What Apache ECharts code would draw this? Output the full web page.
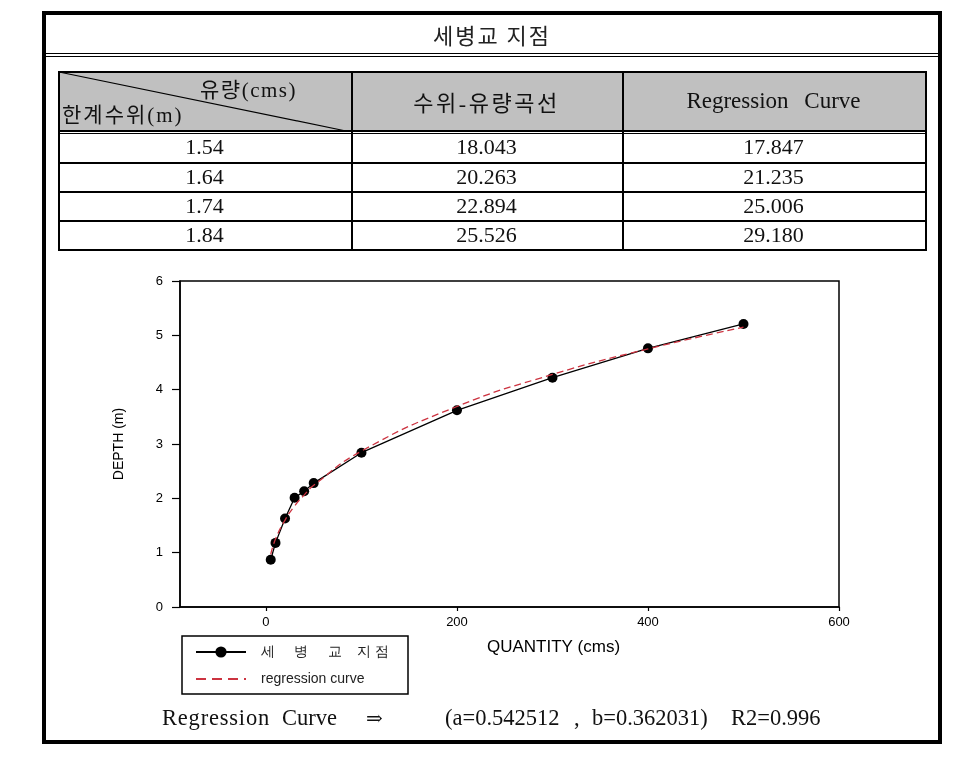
<!DOCTYPE html>
<html><head><meta charset="utf-8">
<script src="https://cdn.jsdelivr.net/npm/echarts@6/dist/echarts.min.js"></script>
<style>
html,body{margin:0;padding:0;background:#fff;}
#wrap{position:relative;width:959px;height:768px;overflow:hidden;background:#fff;}
#chart{position:absolute;left:0;top:0;width:959px;height:768px;}
.abs{position:absolute;box-sizing:border-box;}
.serif{font-family:"Liberation Serif","DejaVu Serif","Noto Sans CJK KR",serif;color:#111;white-space:nowrap;}
.cell{display:flex;align-items:center;justify-content:center;}
</style></head><body>
<div id="wrap"><div id="chart"></div><div id="tbl"></div></div>
<script>
// ---- data ----
const title = '세병교 지점';
const cornerTop = '유량(cms)';
const cornerBottom = '한계수위(m)';
const columnHeads = ['수위-유량곡선', 'Regression Curve'];
const limitLevels = ['1.54', '1.64', '1.74', '1.84'];
const ratingFlows = ['18.043', '20.263', '22.894', '25.526'];
const regressionFlows = ['17.847', '21.235', '25.006', '29.180'];
const quantity = [5, 10, 20, 30, 40, 50, 100, 200, 300, 400, 500];
const depthObserved = [0.87, 1.18, 1.63, 2.01, 2.13, 2.28, 2.84, 3.62, 4.22, 4.76, 5.21];
const depthRegression = [0.97, 1.25, 1.60, 1.86, 2.06, 2.24, 2.87, 3.69, 4.28, 4.75, 5.15];
const xTicks = [0, 200, 400, 600];
const seriesNames = ['세병교 지점', 'regression curve'];
const noteTokens = ['Regression', 'Curve', '⇒', '(a=0.542512', ',', 'b=0.362031)', 'R2=0.996'];

// ---- table (HTML) ----
const tbl = document.getElementById('tbl');
function box(l, t, w, h, css, html) {
  const d = document.createElement('div');
  d.className = 'abs ' + (css || '');
  d.style.left = l + 'px'; d.style.top = t + 'px';
  d.style.width = w + 'px'; d.style.height = h + 'px';
  if (html !== undefined) d.textContent = html;
  tbl.appendChild(d);
  return d;
}
function hline(x1, x2, y, w) { const d = box(x1, y, x2 - x1, w || 1.5); d.style.background = '#000'; }
function vline(x, y1, y2, w) { const d = box(x, y1, w || 1.5, y2 - y1); d.style.background = '#000'; }

// outer frame
const outer = box(42, 11, 900, 733); outer.style.border = '4px solid #000';
// title
const tt = box(46, 15, 892, 38, 'serif cell', title);
tt.style.fontSize = '22px'; tt.style.letterSpacing = '2px'; tt.style.fontFamily = '"Noto Sans CJK KR",sans-serif'; tt.style.color = '#222';
hline(46, 938, 52.5, 1.5); hline(46, 938, 55.5, 1.5);

// table geometry
const colX = [58, 351, 622, 925];
const rowY = [132.5, 162, 191, 220, 249];
const hdrBg = box(58, 71, 867, 61); hdrBg.style.background = '#c0c0c0';
hline(58, 926.5, 71); hline(58, 926.5, 130); hline(58, 926.5, 132.5);
for (let i = 1; i < rowY.length; i++) hline(58, 926.5, rowY[i]);
colX.forEach(x => vline(x, 71, 250.5));
// diagonal
const svgNS = 'http://www.w3.org/2000/svg';
const svg = document.createElementNS(svgNS, 'svg');
svg.setAttribute('width', '300'); svg.setAttribute('height', '62');
svg.style.position = 'absolute'; svg.style.left = '58px'; svg.style.top = '71px';
const ln = document.createElementNS(svgNS, 'line');
ln.setAttribute('x1', '1'); ln.setAttribute('y1', '1'); ln.setAttribute('x2', '288'); ln.setAttribute('y2', '60');
ln.setAttribute('stroke', '#000'); ln.setAttribute('stroke-width', '1.2');
svg.appendChild(ln); tbl.appendChild(svg);

const c1 = box(200, 73, 130, 28, 'serif', cornerTop); c1.style.fontSize = '21px'; c1.style.letterSpacing = '1.5px';
const c2 = box(62, 98, 170, 28, 'serif', cornerBottom); c2.style.fontSize = '21px'; c2.style.letterSpacing = '2px';
const h1 = box(colX[1], 71, colX[2] - colX[1], 60, 'serif cell', columnHeads[0]); h1.style.fontSize = '22px'; h1.style.letterSpacing = '2.5px';
const h2 = box(colX[2], 71, colX[3] - colX[2], 60, 'serif cell', columnHeads[1]); h2.style.fontSize = '23px'; h2.style.wordSpacing = '10px';
const cols = [limitLevels, ratingFlows, regressionFlows];
for (let r = 0; r < limitLevels.length; r++) {
  for (let c = 0; c < 3; c++) {
    const d = box(colX[c], rowY[r], colX[c + 1] - colX[c], rowY[r + 1] - rowY[r], 'serif cell', cols[c][r]);
    d.style.fontSize = '22px';
  }
}
// bottom note tokens (positions are layout only)
const noteX = [162, 282, 366, 445, 574, 592, 731];
noteTokens.forEach((t, i) => {
  const d = box(noteX[i], 703, 160, 30, 'serif', t);
  d.style.fontSize = i === 2 ? '20px' : '22.5px';
  d.style.lineHeight = '30px';
  if (i === 0) d.style.letterSpacing = '0.8px';
});

// ---- chart ----
const chart = echarts.init(document.getElementById('chart'), null, { renderer: 'canvas' });
const axisFont = { fontFamily: 'Liberation Sans', color: '#000' };
chart.setOption({
  animation: false,
  grid: { left: 180, top: 281, width: 659, height: 326, show: true, borderColor: '#000', borderWidth: 1.5 },
  xAxis: {
    type: 'value', min: -90, max: 600,
    name: 'QUANTITY (cms)', nameLocation: 'middle', nameGap: 32,
    nameTextStyle: Object.assign({ fontSize: 17, padding: [0, 0, 0, 88] }, axisFont),
    axisLine: { onZero: false, lineStyle: { color: '#000', width: 1.5 } },
    axisTick: { show: true, length: 4, customValues: xTicks, lineStyle: { color: '#000', width: 1.2 } },
    axisLabel: Object.assign({ customValues: xTicks, margin: 9, fontSize: 13 }, axisFont),
    splitLine: { show: false }
  },
  yAxis: {
    type: 'value', min: 0, max: 6, interval: 1,
    name: 'DEPTH (m)', nameLocation: 'middle', nameGap: 54,
    nameTextStyle: Object.assign({ fontSize: 14 }, axisFont),
    axisLine: { show: true, onZero: false, lineStyle: { color: '#000', width: 1.5 } },
    axisTick: { show: true, length: 8, lineStyle: { color: '#000', width: 1.2 } },
    axisLabel: Object.assign({ margin: 17, fontSize: 13 }, axisFont),
    splitLine: { show: false }
  },
  legend: {
    left: 182, top: 636, orient: 'vertical', padding: [9, 10, 8, 13],
    itemWidth: 50, itemHeight: 14, itemGap: 13,
    data: [seriesNames[0], {
      name: seriesNames[1],
      itemStyle: { color: 'rgba(0,0,0,0)', borderColor: 'rgba(0,0,0,0)', borderWidth: 0 },
      lineStyle: { type: [10, 6] }
    }],
    formatter: n => n === seriesNames[0] ? '세     병     교    지 점' : n,
    textStyle: { fontSize: 14, color: '#222', fontFamily: 'Liberation Sans', padding: [0, 0, 0, 10] }
  },
  graphic: [{
    type: 'rect', x: 182, y: 636, shape: { x: 0, y: 0, width: 226, height: 58 },
    style: { fill: 'none', stroke: '#000', lineWidth: 1.5 }, z: 100, silent: true
  }],
  series: [{
    name: seriesNames[0], type: 'line',
    data: quantity.map((q, i) => [q, depthObserved[i]]),
    symbol: 'circle', symbolSize: 10,
    itemStyle: { color: '#000' },
    lineStyle: { color: '#000', width: 1.3 },
    z: 2
  }, {
    name: seriesNames[1], type: 'line',
    data: quantity.map((q, i) => [q, depthRegression[i]]),
    smooth: 0.5, symbol: 'none', showSymbol: false,
    itemStyle: { color: '#cc3340' },
    lineStyle: { color: '#cc3340', width: 1.3, type: [7, 4] },
    z: 3
  }]
});
</script>
</body></html>
